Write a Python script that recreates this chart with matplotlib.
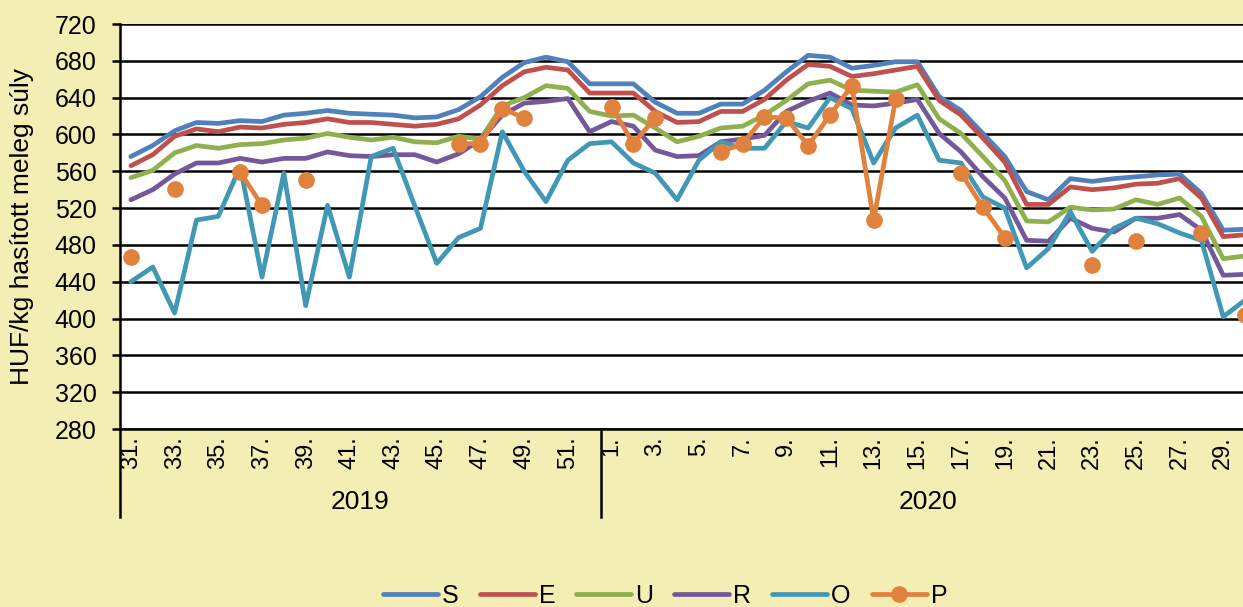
import numpy as np
import matplotlib.pyplot as plt
import matplotlib.transforms as mtransforms

plt.rcParams['font.family'] = ['Liberation Sans', 'DejaVu Sans']

nan = np.nan

# hetek: 2019 31-52. hét, 2020 1-30. hét
weeks_2019 = list(range(31, 53))
weeks_2020 = list(range(1, 31))
years = ['2019', '2020']

S = [576, 588, 604, 613, 612, 615, 614, 621, 623, 626, 623, 622, 621, 618, 619, 627, 641, 662, 678, 684, 679, 655,
     655, 655, 635, 623, 623, 633, 633, 648, 668, 686, 684, 672, 675, 679, 679, 641, 626, 601, 576, 538, 529, 552,
     549, 552, 554, 556, 557, 536, 496, 497]
E = [566, 578, 598, 606, 603, 608, 607, 611, 613, 617, 613, 613, 611, 609, 611, 617, 632, 653, 668, 673, 670, 645,
     645, 645, 625, 613, 614, 625, 625, 638, 659, 676, 674, 663, 666, 670, 674, 637, 621, 596, 570, 524, 524, 543,
     540, 542, 546, 547, 552, 531, 489, 491]
U = [553, 561, 580, 588, 585, 589, 590, 594, 596, 601, 597, 594, 597, 592, 591, 598, 595, 631, 640, 653, 650, 625,
     620, 621, 607, 592, 598, 607, 609, 621, 637, 655, 659, 648, 647, 646, 654, 617, 601, 576, 550, 506, 505, 521,
     518, 519, 529, 524, 531, 511, 465, 468]
R = [529, 540, 557, 569, 569, 574, 570, 574, 574, 581, 577, 576, 578, 578, 570, 579, 594, 621, 634, 636, 639, 603,
     614, 609, 583, 576, 577, 592, 595, 599, 625, 636, 645, 632, 631, 634, 638, 601, 581, 554, 531, 485, 484, 509,
     498, 494, 509, 509, 513, 496, 447, 448]
O = [440, 456, 406, 507, 511, 565, 445, 558, 414, 523, 445, 576, 585, 522, 460, 488, 498, 603, 560, 527, 572, 590,
     592, 569, 558, 529, 572, 592, 585, 585, 614, 607, 640, 628, 569, 607, 621, 572, 569, 532, 520, 455, 476, 516,
     473, 498, 509, 503, 493, 485, 402, 420]
P = [467, nan, 541, nan, nan, 559, 523, nan, 550, nan, nan, nan, nan, nan, nan, 590, 590, 628, 618, nan, nan, nan,
     630, 590, 618, nan, nan, 581, 590, 619, 618, 588, 621, 653, 507, 638, nan, nan, 558, 521, 488, nan, nan, nan,
     458, nan, 484, nan, nan, 493, nan, 404]

labels = [f'{w}.' for w in weeks_2019 + weeks_2020]
x = np.arange(len(labels))

fig = plt.figure(figsize=(12.43, 6.07), dpi=100, facecolor='#F4EEB4')
ax = fig.add_axes([120 / 1243, 178 / 607, 1136 / 1243, 405 / 607])
ax.set_facecolor('white')

series = [('S', S, '#4F81BD'), ('E', E, '#C0504D'), ('U', U, '#8FB04F'),
          ('R', R, '#74589A'), ('O', O, '#4198B5')]
for name, vals, col in series:
    ax.plot(x, vals, color=col, lw=3.4, label=name, solid_capstyle='round', solid_joinstyle='round')
ax.plot(x, P, color='#E0823D', lw=3.4, marker='o', ms=11, label='P', solid_capstyle='round')

ax.set_xlim(-0.5, len(labels) - 0.5)
ax.set_ylim(280, 720)
ax.set_yticks(np.arange(280, 721, 40))
ax.grid(axis='y', color='black', lw=1.8)
ax.set_axisbelow(True)
ax.tick_params(axis='y', labelsize=18, length=6, width=1.8, color='black', pad=11)
ax.set_xticks(x[::2])
ax.set_xticklabels(labels[::2], rotation=90, fontsize=17)
ax.tick_params(axis='x', length=0, pad=5)
for sp in ['top', 'right']:
    ax.spines[sp].set_visible(False)
for sp in ['left', 'bottom']:
    ax.spines[sp].set_linewidth(1.8)

ax.set_ylabel('HUF/kg hasított meleg súly', fontsize=19, va='center')
ax.yaxis.set_label_coords(-98 / 1136, 0.5)

# második szintű kategória (év)
trans = mtransforms.blended_transform_factory(ax.transData, ax.transAxes)
n19 = len(weeks_2019)
for xs in [-0.5, n19 - 0.5, len(labels) - 0.5]:
    ax.plot([xs, xs], [0, -0.217], transform=trans, color='black', lw=1.8, clip_on=False)
ax.text((n19 - 1) / 2, -0.18, years[0], transform=trans, ha='center', va='center', fontsize=19)
ax.text(n19 + (len(weeks_2020) - 1) / 2, -0.18, years[1], transform=trans, ha='center', va='center', fontsize=19)

fig.legend(loc='center', bbox_to_anchor=(0.535, 0.018), ncol=6, frameon=False, fontsize=18,
           handlelength=2.2, columnspacing=0.84, handletextpad=0.16)

fig.savefig('out.png', dpi=100, facecolor=fig.get_facecolor())
